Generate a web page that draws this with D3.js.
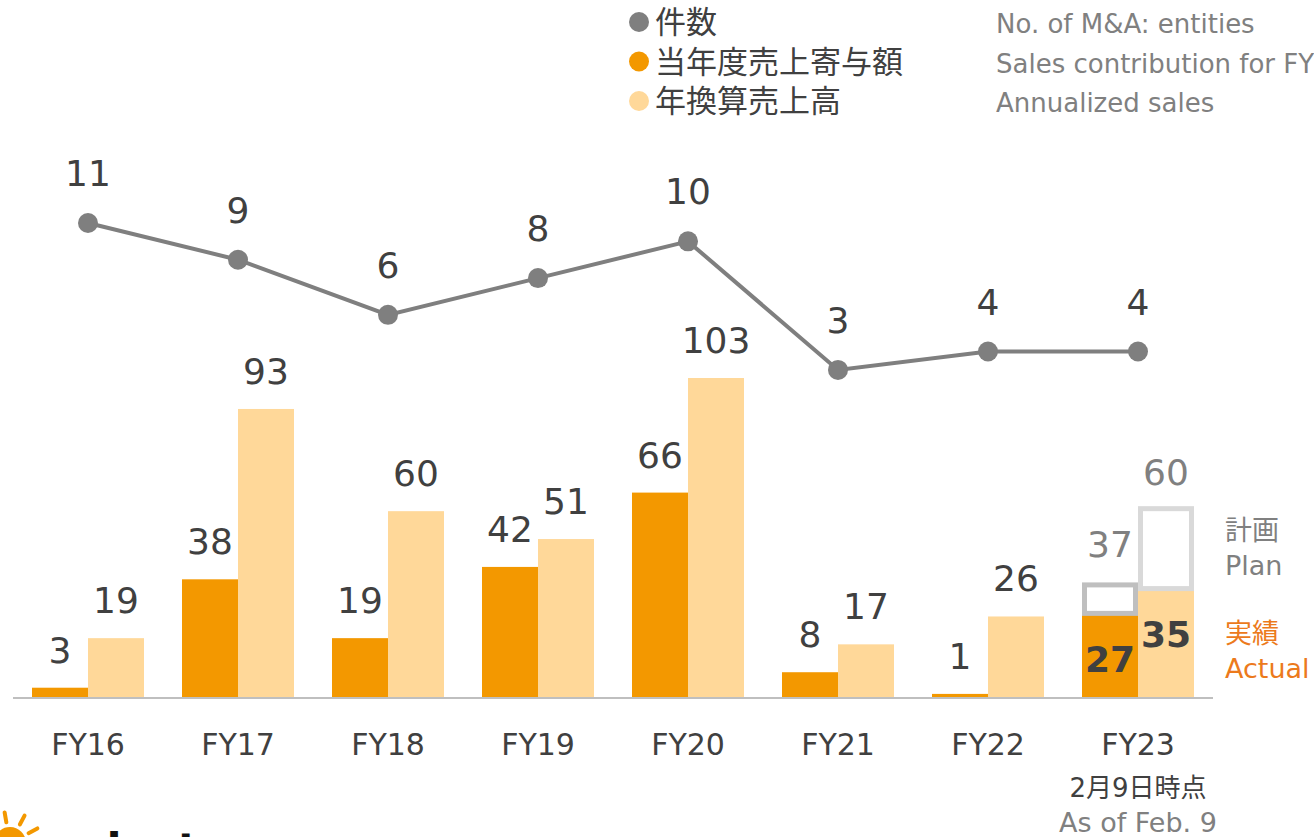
<!DOCTYPE html>
<html lang="ja">
<head>
<meta charset="utf-8">
<title>M&A件数と売上</title>
<script src="https://d3js.org/d3.v7.min.js"></script>
<style>
  body { margin: 0; background: #fff; }
  svg { display: block; }
  text { font-family: "DejaVu Sans", "Noto Sans CJK JP", sans-serif; }
</style>
</head>
<body>
<div id="chart"></div>
<script>
// data
var categories = ["FY16", "FY17", "FY18", "FY19", "FY20", "FY21", "FY22", "FY23"];
var dealCounts = [11, 9, 6, 8, 10, 3, 4, 4];
var salesContribution = [3, 38, 19, 42, 66, 8, 1, 27];
var annualizedSales = [19, 93, 60, 51, 103, 17, 26, 35];
var planCategory = "FY23";
var planContribution = 37;
var planAnnualized = 60;

var W = 1314, H = 837;
var DARK = "#f39800", LIGHT = "#ffd899", GREY = "#7f7f7f", TEXT = "#404040";

var svg = d3.select("#chart").append("svg")
  .attr("width", W)
  .attr("height", H);

var x = d3.scaleBand()
  .domain(categories)
  .range([13, 1213])
  .paddingInner(0.2533)
  .paddingOuter(0.2533 / 2);

var xSub = d3.scaleBand()
  .domain(["contribution", "annualized"])
  .range([0, x.bandwidth()]);

var y = d3.scaleLinear().domain([0, 103]).range([697, 378]);
var yCount = d3.scaleLinear().domain([0, 11]).range([425, 223]);

var rows = categories.map(function(c, i) {
  return {cat: c, count: dealCounts[i], contribution: salesContribution[i], annualized: annualizedSales[i]};
});

// bars
var groups = svg.append("g").selectAll("g")
  .data(rows)
  .join("g")
  .attr("transform", function(d) { return "translate(" + x(d.cat) + ",0)"; });

groups.append("rect")
  .attr("x", xSub("contribution"))
  .attr("y", function(d) { return y(d.contribution); })
  .attr("width", xSub.bandwidth())
  .attr("height", function(d) { return y(0) - y(d.contribution); })
  .attr("fill", DARK);

groups.append("rect")
  .attr("x", xSub("annualized"))
  .attr("y", function(d) { return y(d.annualized); })
  .attr("width", xSub.bandwidth())
  .attr("height", function(d) { return y(0) - y(d.annualized); })
  .attr("fill", LIGHT);

// value labels above bars (not for the plan year)
var normal = groups.filter(function(d) { return d.cat !== planCategory; });
normal.append("text")
  .attr("x", xSub("contribution") + xSub.bandwidth() / 2)
  .attr("y", function(d) { return y(d.contribution) - 25; })
  .attr("text-anchor", "middle")
  .attr("font-size", 36)
  .attr("fill", TEXT)
  .text(function(d) { return d.contribution; });
normal.append("text")
  .attr("x", xSub("annualized") + xSub.bandwidth() / 2)
  .attr("y", function(d) { return y(d.annualized) - 25; })
  .attr("text-anchor", "middle")
  .attr("font-size", 36)
  .attr("fill", TEXT)
  .text(function(d) { return d.annualized; });

// FY23 plan boxes and labels
var pg = groups.filter(function(d) { return d.cat === planCategory; });
pg.append("rect")
  .attr("x", xSub("contribution") + 2.5)
  .attr("y", y(planContribution) + 2.5)
  .attr("width", xSub.bandwidth() - 5)
  .attr("height", function(d) { return y(d.contribution) - y(planContribution) - 2.5; })
  .attr("fill", "none")
  .attr("stroke", "#bfbfbf")
  .attr("stroke-width", 5);
pg.append("rect")
  .attr("x", xSub("annualized") + 2.5)
  .attr("y", y(planAnnualized) - 2.5)
  .attr("width", xSub.bandwidth() - 5)
  .attr("height", function(d) { return y(d.annualized) - y(planAnnualized) + 2.5; })
  .attr("fill", "none")
  .attr("stroke", "#d9d9d9")
  .attr("stroke-width", 5);
pg.append("text")
  .attr("x", xSub("contribution") + xSub.bandwidth() / 2)
  .attr("y", y(planContribution) - 25)
  .attr("text-anchor", "middle")
  .attr("font-size", 36)
  .attr("fill", "#808080")
  .text(planContribution);
pg.append("text")
  .attr("x", xSub("annualized") + xSub.bandwidth() / 2)
  .attr("y", y(planAnnualized) - 26)
  .attr("text-anchor", "middle")
  .attr("font-size", 36)
  .attr("fill", "#808080")
  .text(planAnnualized);
pg.append("text")
  .attr("x", xSub("contribution") + xSub.bandwidth() / 2)
  .attr("y", 672)
  .attr("text-anchor", "middle")
  .attr("font-size", 36)
  .attr("font-weight", "bold")
  .attr("fill", TEXT)
  .text(function(d) { return d.contribution; });
pg.append("text")
  .attr("x", xSub("annualized") + xSub.bandwidth() / 2)
  .attr("y", 647)
  .attr("text-anchor", "middle")
  .attr("font-size", 36)
  .attr("font-weight", "bold")
  .attr("fill", TEXT)
  .text(function(d) { return d.annualized; });

// baseline
svg.append("line")
  .attr("x1", 13).attr("x2", 1213)
  .attr("y1", y(0) + 1).attr("y2", y(0) + 1)
  .attr("stroke", "#bfbfbf")
  .attr("stroke-width", 2);

// x axis labels
var xAxis = svg.append("g")
  .attr("transform", "translate(0,755)")
  .call(d3.axisBottom(x).tickSize(0).tickPadding(0));
xAxis.select(".domain").remove();
xAxis.selectAll("text")
  .attr("dy", 0)
  .attr("font-size", 30)
  .attr("font-family", "DejaVu Sans")
  .attr("fill", TEXT);

var cx = x(planCategory) + x.bandwidth() / 2;
svg.append("text")
  .attr("x", cx).attr("y", 797)
  .attr("text-anchor", "middle")
  .attr("font-size", 26)
  .attr("fill", TEXT)
  .text("2月9日時点");
svg.append("text")
  .attr("x", cx).attr("y", 832)
  .attr("text-anchor", "middle")
  .attr("font-size", 27)
  .attr("fill", "#808080")
  .text("As of Feb. 9");

// count line
var cxOf = function(d) { return x(d.cat) + x.bandwidth() / 2; };
svg.append("path")
  .datum(rows)
  .attr("fill", "none")
  .attr("stroke", GREY)
  .attr("stroke-width", 4)
  .attr("d", d3.line().x(cxOf).y(function(d) { return yCount(d.count); }));

svg.append("g").selectAll("circle")
  .data(rows)
  .join("circle")
  .attr("cx", cxOf)
  .attr("cy", function(d) { return yCount(d.count); })
  .attr("r", 10)
  .attr("fill", GREY);

svg.append("g").selectAll("text")
  .data(rows)
  .join("text")
  .attr("x", cxOf)
  .attr("y", function(d) { return yCount(d.count) - 37; })
  .attr("text-anchor", "middle")
  .attr("font-size", 36)
  .attr("fill", TEXT)
  .text(function(d) { return d.count; });

// legend
var legendJa = ["件数", "当年度売上寄与額", "年換算売上高"];
var legendEn = ["No. of M&A: entities", "Sales contribution for FY", "Annualized sales"];
var legendColors = [GREY, DARK, LIGHT];
var legend = svg.append("g");
legendJa.forEach(function(t, i) {
  var cy = 22 + i * 39.5;
  legend.append("circle").attr("cx", 639).attr("cy", cy).attr("r", 10).attr("fill", legendColors[i]);
  legend.append("text")
    .attr("x", 655).attr("y", cy + 11)
    .attr("font-size", 31)
    .attr("font-family", "Noto Sans CJK JP")
    .attr("fill", TEXT)
    .text(t);
  legend.append("text")
    .attr("x", 996).attr("y", cy + 11)
    .attr("font-size", 26)
    .attr("fill", "#808080")
    .text(legendEn[i]);
});

// plan / actual side note
var note = svg.append("g").attr("font-size", 27);
note.append("text").attr("x", 1225).attr("y", 540).attr("fill", "#808080")
  .attr("font-family", "Noto Sans CJK JP").text("計画");
note.append("text").attr("x", 1225).attr("y", 575).attr("fill", "#808080").text("Plan");
note.append("text").attr("x", 1225).attr("y", 643).attr("fill", "#ec7a1c")
  .attr("font-family", "Noto Sans CJK JP").text("実績");
note.append("text").attr("x", 1225).attr("y", 678).attr("fill", "#ec7a1c").text("Actual");

// logo fragment, bottom-left (cut by the page edge as in the source)
var logo = svg.append("g");
logo.append("circle").attr("cx", 10).attr("cy", 843).attr("r", 16).attr("fill", DARK);
[-100, -62, -28, -5].forEach(function(a) {
  var ang = a * Math.PI / 180;
  logo.append("line")
    .attr("x1", 10 + Math.cos(ang) * 21).attr("y1", 843 + Math.sin(ang) * 21)
    .attr("x2", 10 + Math.cos(ang) * 31).attr("y2", 843 + Math.sin(ang) * 31)
    .attr("stroke", DARK).attr("stroke-width", 4).attr("stroke-linecap", "round");
});
logo.append("text").attr("x", 50).attr("y", 865)
  .attr("font-size", 44).attr("font-weight", "bold").attr("fill", "#111")
  .text("solasto");
</script>
</body>
</html>
